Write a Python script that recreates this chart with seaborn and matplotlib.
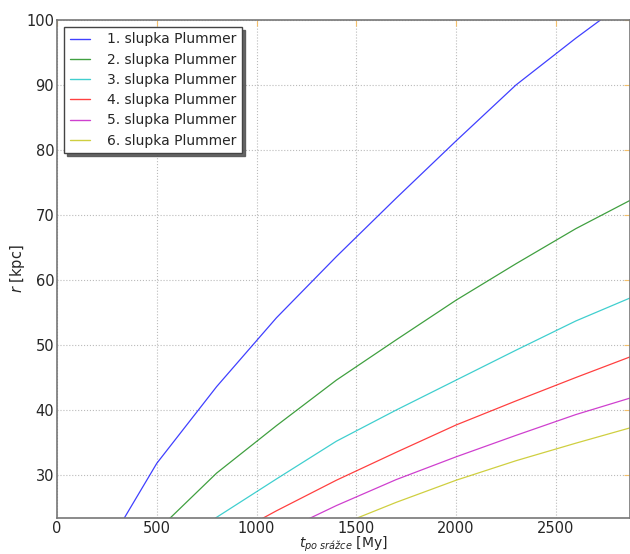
import pandas as pd
import matplotlib
matplotlib.use("Agg")
import matplotlib.pyplot as plt
import seaborn as sns

# === Data
t = [200, 500, 800, 1100, 1400, 1700, 2000, 2300, 2600, 2900]
shell_1 = [16.3, 31.8, 43.6, 54.2, 63.6, 72.6, 81.4, 90.0, 97.2, 104.0]
shell_2 = [12.0, 21.4, 30.3, 37.6, 44.6, 50.8, 56.9, 62.5, 67.9, 72.7]
shell_3 = [11.5, 17.4, 23.5, 29.4, 35.2, 40.0, 44.6, 49.2, 53.7, 57.6]
shell_4 = [10.5, 14.8, 19.5, 24.5, 29.2, 33.5, 37.7, 41.4, 45.0, 48.5]
shell_5 = [9.5, 13.0, 16.8, 20.9, 25.3, 29.3, 32.8, 36.1, 39.3, 42.1]
shell_6 = [8.5, 11.5, 14.8, 18.3, 22.1, 25.8, 29.2, 32.2, 34.9, 37.5]
labels = ["1. slupka Plummer", "2. slupka Plummer", "3. slupka Plummer",
          "4. slupka Plummer", "5. slupka Plummer", "6. slupka Plummer"]
colors = ["#0000ff", "#008000", "#00bfbf", "#ff0000", "#bf00bf", "#bfbf00"]

series = [shell_1, shell_2, shell_3, shell_4, shell_5, shell_6]
df = pd.concat(
    [pd.DataFrame({"t": t, "r": vals, "shell": lab}) for lab, vals in zip(labels, series)],
    ignore_index=True,
)

# === Style
sns.set_style("white")
plt.rcParams["font.family"] = ["DejaVu Sans"]
plt.rcParams["font.size"] = 10.5

fig = plt.figure(figsize=(6.3, 5.54), dpi=100)
ax = fig.add_axes([0.0905, 0.0644, 0.909, 0.8995])

sns.lineplot(data=df, x="t", y="r", hue="shell", palette=colors, estimator=None,
             sort=False, linewidth=0.9, alpha=0.75, ax=ax)

ax.set_xlim(0, 2870)
ax.set_ylim(23.34, 100)
ax.set_xticks([0, 500, 1000, 1500, 2000, 2500])
ax.set_yticks([30, 40, 50, 60, 70, 80, 90, 100])
ax.grid(True, linestyle=":", color="#bbbbbb", linewidth=0.8)
ax.tick_params(direction="in", length=4, color="#f5c06a", top=True, right=True,
               labelsize=10.5, pad=2)
for sp in ax.spines.values():
    sp.set_color("#777777")
    sp.set_linewidth(1.2)

ax.set_xlabel(r"$t_{po\ srážce}$ [My]", fontsize=10)
ax.set_ylabel(r"$r$ [kpc]", fontsize=10.5)
ax.xaxis.set_label_coords(0.5, -0.033)
ax.yaxis.set_label_coords(-0.052, 0.5)

leg = ax.legend(loc="upper left", fancybox=False, frameon=True,
                shadow={"ox": 2, "oy": -2, "color": "#555555", "alpha": 0.9},
                fontsize=10, handlelength=1.5, handletextpad=1.2,
                labelspacing=0.45, borderpad=0.4, borderaxespad=0.5)
leg.get_frame().set_edgecolor("#444444")
leg.get_frame().set_linewidth(1.0)
for h in leg.get_lines():
    h.set_linewidth(1.0)

fig.savefig("out.png", dpi=100)
